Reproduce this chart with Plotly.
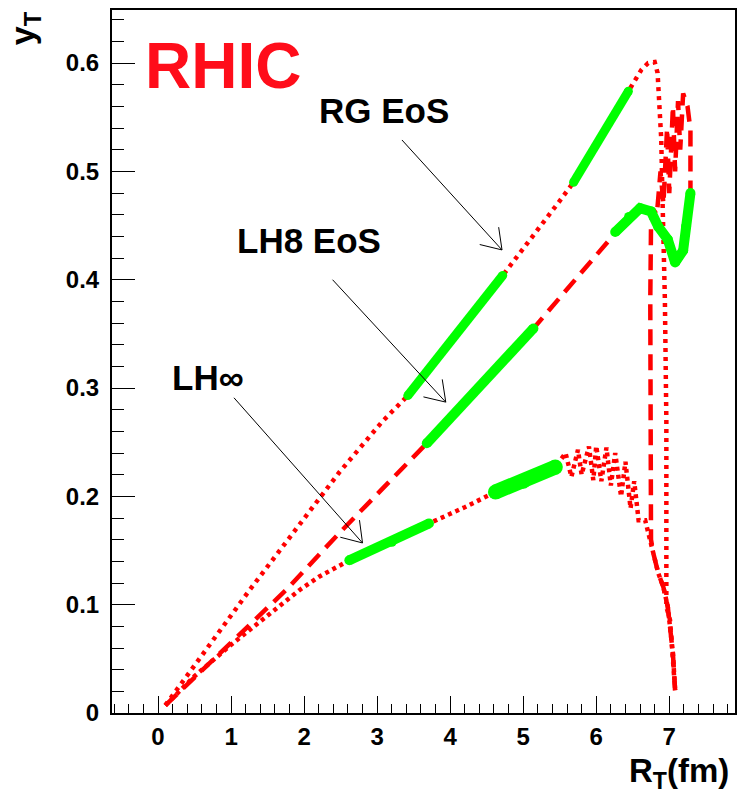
import math
import plotly.graph_objects as go

# ---------------- data ----------------
# RG EoS (red dotted)
rg_x = [0.10, 0.50, 1.26, 2.48, 3.07, 3.42, 4.72, 5.48, 5.69, 6.44, 6.53, 6.62, 6.71, 6.80, 6.84, 6.87, 6.89, 6.91, 6.94, 6.96, 6.96, 7.01, 7.08]
rg_y = [0.007, 0.044, 0.114, 0.222, 0.269, 0.293, 0.404, 0.471, 0.490, 0.574, 0.584, 0.594, 0.600, 0.601, 0.591, 0.560, 0.530, 0.467, 0.381, 0.270, 0.098, 0.086, 0.021]
rg_green = [([3.42, 4.72], [0.293, 0.404]),
            ([5.69, 6.44], [0.490, 0.574])]

# LH8 EoS (red dashed)
lh8_x = [0.10, 1.76, 2.48, 3.30, 3.68, 5.14, 6.26, 6.45, 6.60, 6.75, 6.85, 6.98, 7.08, 7.19, 7.23, 7.29, 7.29, 7.25, 7.19,
         7.15, 7.12, 7.08, 7.05, 7.00, 6.97, 6.92, 6.88, 6.83, 6.78, 6.75, 6.74, 6.74, 6.75, 6.78, 6.85, 6.92, 6.98, 7.05, 7.08]
lh8_y = [0.007, 0.114, 0.166, 0.222, 0.249, 0.355, 0.444, 0.458, 0.466, 0.463, 0.449, 0.437, 0.416, 0.427, 0.449, 0.480, 0.538, 0.560, 0.572,
         0.520, 0.565, 0.500, 0.560, 0.480, 0.540, 0.470, 0.500, 0.460, 0.465, 0.450, 0.381, 0.270, 0.160, 0.148, 0.129, 0.116, 0.098, 0.055, 0.021]
lh8_green = [([3.68, 5.14], [0.249, 0.355]),
             ([6.26, 6.45, 6.60, 6.75, 6.85, 6.98, 7.08, 7.19, 7.23, 7.29],
              [0.444, 0.458, 0.466, 0.463, 0.449, 0.437, 0.416, 0.427, 0.449, 0.480])]

# LH-infinity (red dense dotted)
lhi_x = [0.10, 0.50, 1.00, 1.50, 1.94, 2.21, 2.62, 3.20, 3.71, 4.20, 4.62, 5.00, 5.44, 5.58, 5.66, 5.75, 5.80, 5.90, 5.96, 6.00,
         6.07, 6.14, 6.20, 6.26, 6.34, 6.40, 6.47, 6.52, 6.58, 6.67, 6.78, 6.85, 6.92, 6.98, 7.05, 7.08]
lhi_y = [0.007, 0.034, 0.063, 0.090, 0.1136, 0.126, 0.141, 0.158, 0.175, 0.190, 0.204, 0.214, 0.227, 0.240, 0.218, 0.243, 0.220, 0.246, 0.215, 0.2465,
         0.214, 0.245, 0.210, 0.240, 0.200, 0.232, 0.189, 0.214, 0.178, 0.178, 0.148, 0.129, 0.116, 0.098, 0.055, 0.021]
lhi_green_thin = ([2.62, 3.20, 3.71], [0.141, 0.158, 0.175])
lhi_green_thick = ([4.62, 5.00, 5.44], [0.204, 0.214, 0.227])

# labels and arrows (tail -> tip), data coordinates
labels = [("RG EoS", 2.17, 0.556), ("LH8 EoS", 1.05, 0.436), ("LH\u221e", 0.16, 0.310)]
arrows = [((3.34, 0.529), (4.71, 0.4275)),
          ((2.39, 0.400), (3.94, 0.287)),
          ((1.04, 0.291), (2.80, 0.157))]

x_range = [-0.63, 7.90]
y_range = [0.0, 0.649]
x_ticks = [0, 1, 2, 3, 4, 5, 6, 7]
y_ticks = [0, 0.1, 0.2, 0.3, 0.4, 0.5, 0.6]
y_ticktext = ["0", "0.1", "0.2", "0.3", "0.4", "0.5", "0.6"]

# ---------------- figure ----------------
W, H = 737, 793
ML, MR, MT, MB = 112, 0, 10, 80
RED = "#ff0000"
GREEN = "#00ff00"
FONT = "Liberation Sans, Arial, Helvetica, sans-serif"

fig = go.Figure()

fig.add_trace(go.Scatter(x=rg_x, y=rg_y, mode="lines",
                         line=dict(color=RED, width=4.5, dash="4px,5px")))
fig.add_trace(go.Scatter(x=lh8_x, y=lh8_y, mode="lines",
                         line=dict(color=RED, width=4.5, dash="16px,9px")))
fig.add_trace(go.Scatter(x=lhi_x, y=lhi_y, mode="lines",
                         line=dict(color=RED, width=4.5, dash="4px,4px")))


def green(gx, gy, w):
    fig.add_trace(go.Scatter(x=gx, y=gy, mode="lines+markers",
                             line=dict(color=GREEN, width=w),
                             marker=dict(color=GREEN, size=w, line=dict(width=0))))


for gx, gy in rg_green:
    green(gx, gy, 9)
for gx, gy in lh8_green:
    green(gx, gy, 10)
green(lhi_green_thin[0], lhi_green_thin[1], 10)
green(lhi_green_thick[0], lhi_green_thick[1], 15)

# arrows
sx = (W - ML - MR) / (x_range[1] - x_range[0])
sy = (H - MT - MB) / (y_range[1] - y_range[0])
shapes = []
for (ax, ay), (tx, ty) in arrows:
    shapes.append(dict(type="line", xref="x", yref="y", x0=ax, y0=ay, x1=tx, y1=ty,
                       line=dict(color="black", width=1)))
    dx, dy = (ax - tx) * sx, (ay - ty) * sy
    n = math.hypot(dx, dy)
    dx, dy = dx / n, dy / n
    for ang in (math.radians(34), math.radians(-34)):
        hx = dx * math.cos(ang) - dy * math.sin(ang)
        hy = dx * math.sin(ang) + dy * math.cos(ang)
        shapes.append(dict(type="line", xref="x", yref="y", x0=tx, y0=ty,
                           x1=tx + hx * 23 / sx, y1=ty + hy * 23 / sy,
                           line=dict(color="black", width=1)))

annotations = []
annotations.append(dict(x=-0.21, y=0.597, xref="x", yref="y", text="RHIC", showarrow=False,
                        xanchor="left", yanchor="middle",
                        font=dict(family=FONT, size=64, color="#ff0d1a", weight="bold")))
for txt, lx, ly in labels:
    annotations.append(dict(x=lx, y=ly, xref="x", yref="y", text=txt, showarrow=False,
                            xanchor="left", yanchor="middle",
                            font=dict(family=FONT, size=35, color="black", weight="bold")))
annotations.append(dict(x=(25 - ML) / (W - ML - MR), y=(H - MB - 28) / (H - MT - MB),
                        xref="paper", yref="paper", text="y<sub>T</sub>", showarrow=False,
                        textangle=-90, xanchor="center", yanchor="middle",
                        font=dict(family=FONT, size=34, color="black", weight="bold")))
annotations.append(dict(x=(733 - ML) / (W - ML - MR), y=(H - MB - 773) / (H - MT - MB),
                        xref="paper", yref="paper", text="R<sub>T</sub>(fm)", showarrow=False,
                        xanchor="right", yanchor="middle",
                        font=dict(family=FONT, size=33, color="black", weight="bold")))

fig.update_layout(
    width=W, height=H,
    margin=dict(l=ML, r=MR, t=MT, b=MB, pad=0),
    paper_bgcolor="white", plot_bgcolor="white",
    showlegend=False,
    shapes=shapes, annotations=annotations,
    font=dict(family=FONT, color="black"),
)
fig.update_xaxes(range=x_range, tickvals=x_ticks, ticks="inside", ticklen=17, tickwidth=1,
                 tickcolor="black", showline=True, linecolor="black", linewidth=2, mirror=True,
                 showgrid=False, zeroline=False, ticklabelstandoff=1,
                 tickfont=dict(family=FONT, size=24, color="black", weight="bold"),
                 minor=dict(ticks="inside", ticklen=9, dtick=0.2, tick0=0, tickcolor="black", tickwidth=1))
fig.update_yaxes(range=y_range, tickvals=y_ticks, ticktext=y_ticktext, ticks="inside", ticklen=23,
                 tickwidth=1, tickcolor="black", showline=True, linecolor="black", linewidth=2,
                 mirror=True, showgrid=False, zeroline=False, ticklabelstandoff=6,
                 tickfont=dict(family=FONT, size=24, color="black", weight="bold"),
                 minor=dict(ticks="inside", ticklen=12, dtick=0.02, tick0=0, tickcolor="black", tickwidth=1))

fig.write_html("out.html")
